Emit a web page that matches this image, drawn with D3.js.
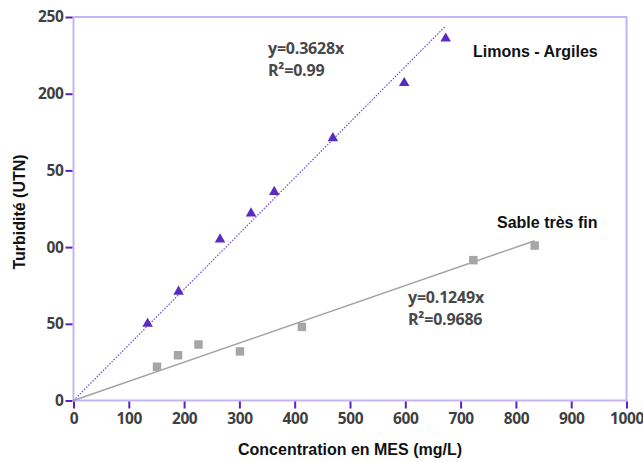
<!DOCTYPE html>
<html>
<head>
<meta charset="utf-8">
<script src="https://cdn.jsdelivr.net/npm/d3@7"></script>
<style>
  html, body { margin: 0; padding: 0; background: #fff; }
  svg { display: block; }
  .tick text { font-family: "Open Sans", sans-serif; font-weight: 700; font-size: 15.5px; fill: #3f3f3f; letter-spacing: -0.4px; }
  .eq { font-family: "Open Sans", sans-serif; font-weight: 700; font-size: 16px; fill: #484848; letter-spacing: -0.2px; }
  .lbl { font-family: "Liberation Sans", Arial, sans-serif; font-weight: bold; font-size: 16px; fill: #111; }
</style>
</head>
<body>
<div id="chart"></div>
<script>
// data
const limons = [[134, 50], [190, 71], [265, 105], [321, 122], [363, 136], [469, 171], [598, 207], [673, 236]];
const sable = [[151, 22], [189, 29.5], [226, 36.5], [301, 32], [413, 48], [723, 91.5], [834, 101]];
const limonsSlope = 0.3628;
const sableSlope = 0.1249;
const xTicks = [0, 100, 200, 300, 400, 500, 600, 700, 800, 900, 1000];
const yTicks = [0, 50, 100, 150, 200, 250];
const yTickLabels = ["0", "50", "00", "50", "200", "250"];

const W = 643, H = 462;
const x = d3.scaleLinear().domain([0, 1000]).range([73.5, 626.5]);
const y = d3.scaleLinear().domain([0, 250]).range([400.5, 17]);

const svg = d3.select("#chart").append("svg").attr("width", W).attr("height", H);

// frame
svg.append("rect")
  .attr("x", x(0)).attr("y", y(250))
  .attr("width", x(1000) - x(0)).attr("height", y(0) - y(250))
  .attr("fill", "none").attr("stroke", "#c6b5f3").attr("stroke-width", 2);

const xAxis = svg.append("g")
  .attr("transform", `translate(0,${y(0) + 1})`)
  .call(d3.axisBottom(x).tickValues(xTicks).tickSize(7).tickPadding(4).tickFormat(d3.format("d")));
const yAxis = svg.append("g")
  .attr("transform", `translate(${x(0) - 1},0)`)
  .call(d3.axisLeft(y).tickValues(yTicks).tickSize(7).tickPadding(2).tickFormat((d, i) => yTickLabels[i]));

[xAxis, yAxis].forEach(g => {
  g.select(".domain").remove();
  g.selectAll(".tick line").attr("stroke", "#5a22c0").attr("stroke-width", 2);
});

// fit lines
const line = d3.line().x(d => x(d[0])).y(d => y(d[1]));
const limonsMax = d3.max(limons, d => d[0]);
const sableMax = d3.max(sable, d => d[0]);

svg.append("path")
  .attr("d", line([[0, 0], [limonsMax, limonsMax * limonsSlope]]))
  .attr("fill", "none").attr("stroke", "#6a4ce0").attr("stroke-width", 1.2)
  .attr("stroke-dasharray", "1.5,1.5");

svg.append("path")
  .attr("d", line([[0, 0], [sableMax, sableMax * sableSlope]]))
  .attr("fill", "none").attr("stroke", "#a3a3a3").attr("stroke-width", 1.5);

// points
svg.selectAll(".sq").data(sable).join("path")
  .attr("class", "sq")
  .attr("transform", d => `translate(${x(d[0])},${y(d[1])})`)
  .attr("d", d3.symbol(d3.symbolSquare, 72)())
  .attr("fill", "#a6a6a6");

svg.selectAll(".tri").data(limons).join("path")
  .attr("class", "tri")
  .attr("transform", d => `translate(${x(d[0])},${y(d[1])})`)
  .attr("d", d3.symbol(d3.symbolTriangle, 48)())
  .attr("fill", "#5b2bc0");

// annotations
svg.append("text").attr("class", "eq").attr("x", 268).attr("y", 54).text("y=0.3628x");
svg.append("text").attr("class", "eq").attr("x", 268).attr("y", 75.5).text("R²=0.99");
svg.append("text").attr("class", "eq").attr("x", 408).attr("y", 303).text("y=0.1249x");
svg.append("text").attr("class", "eq").attr("x", 408).attr("y", 324.5).text("R²=0.9686");

svg.append("text").attr("class", "lbl").attr("x", 473).attr("y", 56.5).text("Limons - Argiles");
svg.append("text").attr("class", "lbl").attr("x", 497).attr("y", 228).text("Sable très fin");

// axis titles
svg.append("text").attr("class", "lbl")
  .attr("text-anchor", "middle")
  .attr("transform", "translate(25,212) rotate(-90)")
  .text("Turbidité (UTN)");
svg.append("text").attr("class", "lbl")
  .attr("text-anchor", "middle")
  .attr("x", 350).attr("y", 455)
  .text("Concentration en MES (mg/L)");
</script>
</body>
</html>
